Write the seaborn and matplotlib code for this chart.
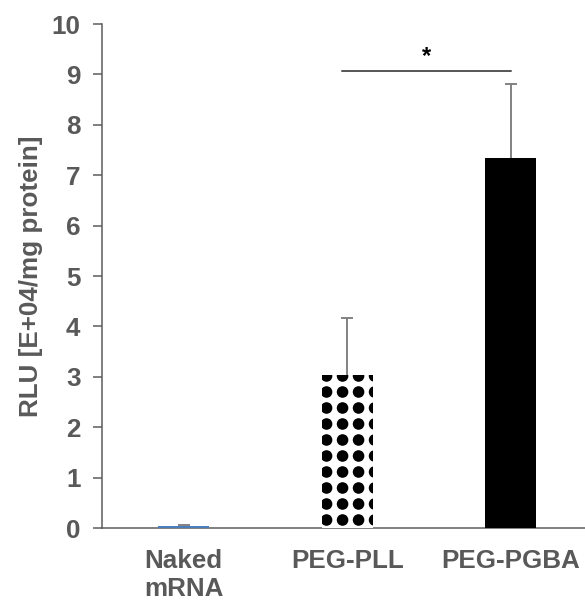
import numpy as np
import pandas as pd
import matplotlib
matplotlib.use("Agg")
import matplotlib.pyplot as plt
import matplotlib.hatch as mhatch
import seaborn as sns

# ---- data ----
categories = ["Naked\nmRNA", "PEG-PLL", "PEG-PGBA"]
values = [0.03, 3.04, 7.34]
errors = [0.02, 1.13, 1.47]
yticks = [0, 1, 2, 3, 4, 5, 6, 7, 8, 9, 10]
sig_y = 9.07
sig_label = "*"
ylabel = "RLU [E+04/mg protein]"

W, H, DPI = 585, 603, 96


def pt(px):
    return px * 72.0 / DPI


# ---- custom square-grid filled dot hatch (replaces '.') ----
class SquareDots(mhatch.SmallFilledCircles):
    size = 0.32
    filled = True
    phase_x = 0.41
    phase_y = 0.5

    def __init__(self, hatch, density):
        super().__init__(hatch, density)
        n = self.num_rows
        self.num_shapes = 0 if n == 0 else (n + 2) * (n + 2)
        self.num_vertices = self.num_shapes * len(self.shape_vertices)

    def set_vertices_and_codes(self, vertices, codes):
        n = self.num_rows
        offset = 1.0 / n
        sv = self.shape_vertices * offset * self.size
        vparts, cparts = [], []
        for r in range(-1, n + 1):
            for c in range(-1, n + 1):
                vparts.append(sv + [(c + self.phase_x) * offset,
                                    (r + self.phase_y) * offset])
                cparts.append(self.shape_codes)
        vertices[:] = np.concatenate(vparts)
        codes[:] = np.concatenate(cparts)


for i, ht in enumerate(mhatch._hatch_types):
    if ht is mhatch.SmallFilledCircles:
        mhatch._hatch_types[i] = SquareDots

sns.set_theme(style="white")
plt.rcParams["font.family"] = ["Liberation Sans", "DejaVu Sans"]
plt.rcParams["hatch.color"] = "black"

fig = plt.figure(figsize=(W / DPI, H / DPI), dpi=DPI)
ax = fig.add_axes([102 / W, (H - 528) / H, 483 / W, 504 / H])

df = pd.DataFrame({"cat": categories, "val": values})
palette = ["#4a7ebb", "white", "black"]
sns.barplot(data=df, x="cat", y="val", hue="cat", palette=palette,
            width=0.31, legend=False, ax=ax, saturation=1, errorbar=None)

for i, p in enumerate(ax.patches):
    p.set_linewidth(0)
    p.set_zorder(3)
    if i == 1:
        p.set_facecolor("white")
        p.set_edgecolor("black")
        p.set_hatch(".")

pos = np.arange(len(categories))
# error bars drawn behind the bars so only the upper part shows
ax.errorbar(pos, values, yerr=errors, fmt="none",
            ecolor="#7f7f7f", elinewidth=pt(1.9), capsize=pt(6.2),
            capthick=pt(1.9), zorder=2)

# significance bar
ax.plot([pos[1] - 0.03, pos[2]], [sig_y, sig_y], color="#595959", lw=pt(2.0))
ax.text((pos[1] + pos[2]) / 2 - 0.015, sig_y + 0.05, sig_label,
        ha="center", va="bottom", fontsize=pt(23.6), fontweight="bold",
        color="black")

ax.set_xlim(-0.5, 2.454)
ax.set_ylim(0, 10)
ax.set_yticks(yticks)
ax.set_yticklabels([str(t) for t in yticks])

gray = "#595959"
fs = pt(26)
ax.set_xlabel("")
ax.set_ylabel(ylabel, fontsize=fs, fontweight="bold", color=gray,
              labelpad=pt(8.3))
for lab in ax.get_yticklabels() + ax.get_xticklabels():
    lab.set_fontsize(fs)
    lab.set_fontweight("bold")
    lab.set_color(gray)

ax.tick_params(axis="y", which="major", left=True, length=pt(9),
               width=pt(1.5), color=gray, pad=pt(12.5), direction="out")
ax.tick_params(axis="x", which="major", bottom=False, length=0, pad=pt(20.8))

for s in ["top", "right"]:
    ax.spines[s].set_visible(False)
for s in ["left", "bottom"]:
    ax.spines[s].set_color(gray)
    ax.spines[s].set_linewidth(pt(1.5))
    ax.spines[s].set_zorder(2.5)

fig.savefig("out.png", dpi=DPI)
